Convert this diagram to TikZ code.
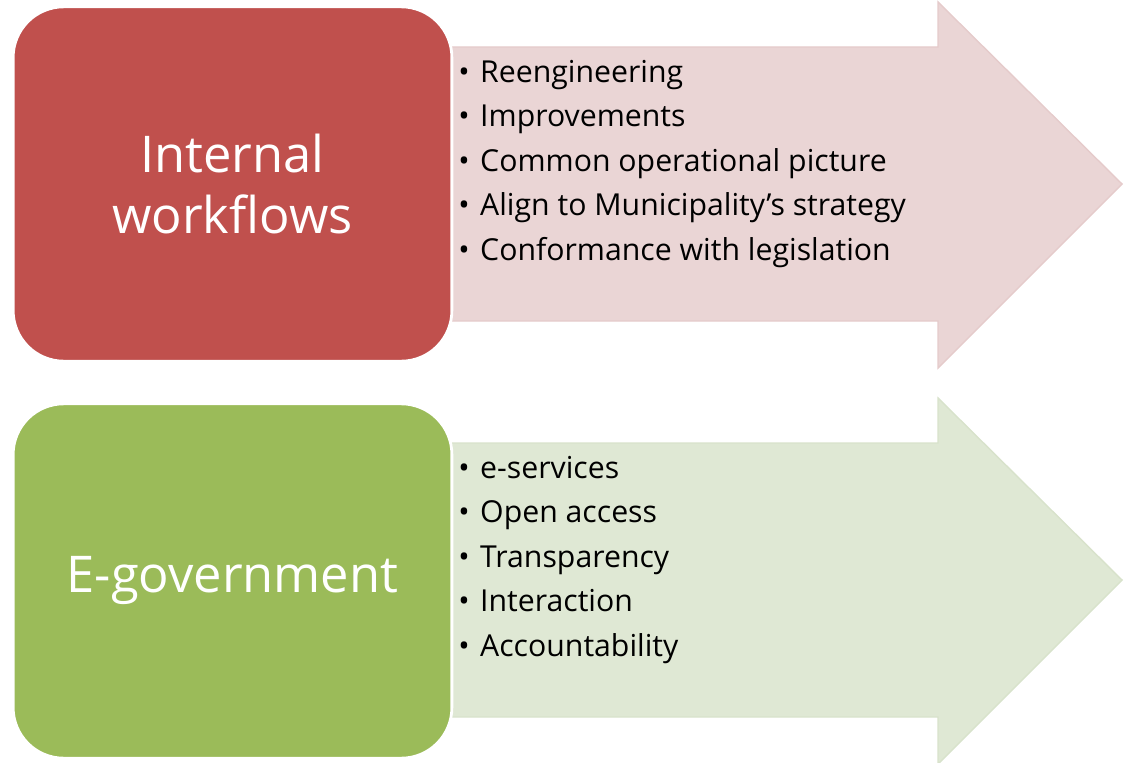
\documentclass[tikz,border=0pt]{standalone}
\usepackage{fontspec}
\setmainfont{Open Sans}
\usepackage{tikz}
\definecolor{boxRed}{HTML}{C0504D}
\definecolor{boxGreen}{HTML}{9BBB59}
\definecolor{arrowRed}{HTML}{EAD5D5}
\definecolor{arrowRedLine}{HTML}{E5CBCB}
\definecolor{arrowGreen}{HTML}{DFE8D4}
\definecolor{arrowGreenLine}{HTML}{D8E2CB}

\tikzset{
  bigbox/.style={draw=white, line width=2pt, rounded corners=36pt, minimum width=312pt, minimum height=252pt,
                 text=white, align=center, font=\fontsize{36}{44}\selectfont},
  item/.style={inner sep=0pt, anchor=base west, font=\fontsize{21.5}{25}\selectfont}
}

\begin{document}
\begin{tikzpicture}[x=0.025cm,y=-0.025cm]
    \useasboundingbox (0,0) rectangle (1128,762);
    % arrows
    \fill [draw=arrowRedLine, line width=1pt, fill=arrowRed] (440,47) -- (938,47) -- (938,2) -- (1122,184) -- (938,368) -- (938,321) -- (440,321) -- cycle;
    \fill [draw=arrowGreenLine, line width=1pt, fill=arrowGreen] (440,443) -- (938,443) -- (938,398) -- (1122,580) -- (938,764) -- (938,717) -- (440,717) -- cycle;
    % boxes
    \node (intern) [bigbox, fill=boxRed] at (232.5,184) {Internal\\workflows};
    \node (egov) [bigbox, fill=boxGreen] at (232.5,581) {E-government};
    % bullet lists
    \foreach \txt [count=\i] in {Reengineering, Improvements, Common operational picture, {Align to Municipality’s strategy}, Conformance with legislation}
        \node (ri\i) [item] at (458,82+44.5*\i-44.5) {\makebox[15.6pt][l]{\textbullet}\txt};
    \foreach \txt [count=\i] in {e-services, Open access, Transparency, Interaction, Accountability}
        \node (gi\i) [item] at (458,478+44.5*\i-44.5) {\makebox[15.6pt][l]{\textbullet}\txt};
\end{tikzpicture}
\end{document}
